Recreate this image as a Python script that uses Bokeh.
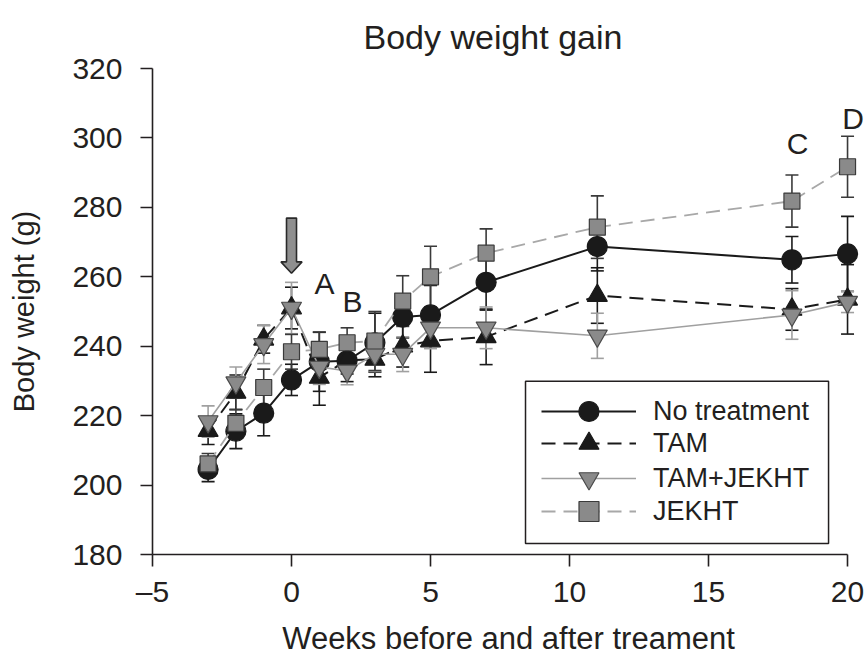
from bokeh.plotting import figure
from bokeh.models import (ColumnDataSource, Whisker, TeeHead, Range1d, FixedTicker,
                          Label, PolyAnnotation, BoxAnnotation, Legend, LegendItem)
from bokeh.embed import file_html
from bokeh.resources import INLINE

# ---------------- data ----------------
weeks = [-3, -2, -1, 0, 1, 2, 3, 4, 5, 7, 11, 18, 20]

no_treat = [204.5, 215.5, 220.7, 230.3, 235.5, 235.8, 241.0, 248.4, 249.0, 258.4, 268.7, 264.9, 266.6]
no_treat_err = [3.5, 5.0, 6.5, 4.5, 8.5, 6.0, 8.5, 6.0, 8.5, 8.0, 7.0, 6.7, 10.8]

tam = [215.7, 226.7, 242.0, 251.0, 231.0, 236.0, 236.2, 240.0, 241.5, 242.7, 254.6, 250.6, 253.5]
tam_err = [4.0, 5.0, 4.0, 6.0, 8.0, 4.0, 5.0, 6.0, 9.0, 8.0, 8.0, 6.0, 10.0]

tam_jekht = [218.3, 229.5, 240.5, 251.0, 234.0, 232.9, 237.7, 237.7, 245.3, 245.3, 243.0, 249.0, 252.7]
tam_jekht_err = [4.5, 4.5, 5.5, 7.4, 5.0, 4.0, 5.0, 5.0, 6.0, 6.0, 6.5, 7.0, 3.0]

jekht = [206.1, 217.8, 228.1, 238.4, 239.1, 241.0, 241.5, 253.0, 260.0, 266.8, 274.3, 281.8, 291.7]
jekht_err = [3.0, 4.0, 5.3, 5.0, 5.0, 4.3, 8.5, 7.3, 8.8, 7.0, 9.0, 7.5, 8.8]

series_names = ["No treatment", "TAM", "TAM+JEKHT", "JEKHT"]
x_ticks = [-5, 0, 5, 10, 15, 20]
y_ticks = [180, 200, 220, 240, 260, 280, 300, 320]

FONT = "Liberation Sans"
TXT = "#231f20"

p = figure(width=864, height=658,
           x_range=Range1d(-5, 20.61), y_range=Range1d(180, 320),
           output_backend="svg", toolbar_location=None,
           min_border_left=152, min_border_right=0,
           min_border_top=68, min_border_bottom=102,
           title="Body weight gain")

p.title.align = "left"
p.title.offset = 211
p.title.text_font = FONT
p.title.text_font_size = "34px"
p.title.text_font_style = "normal"
p.title.text_color = TXT
p.title.standoff = 26

p.outline_line_color = None
p.grid.visible = False
p.background_fill_color = "white"

for ax in (p.xaxis[0], p.yaxis[0]):
    ax.axis_line_color = "#231f20"
    ax.axis_line_width = 1.6
    ax.major_tick_line_color = "#231f20"
    ax.major_tick_line_width = 1.6
    ax.major_tick_out = 12
    ax.major_tick_in = 0
    ax.minor_tick_line_color = None
    ax.major_label_text_font = FONT
    ax.major_label_text_font_size = "30px"
    ax.major_label_text_color = TXT
    ax.axis_label_text_font = FONT
    ax.axis_label_text_font_style = "normal"
    ax.axis_label_text_color = TXT

p.xaxis.ticker = FixedTicker(ticks=x_ticks)
p.yaxis.ticker = FixedTicker(ticks=y_ticks)
p.xaxis.bounds = (x_ticks[0], x_ticks[-1])
p.yaxis.bounds = (y_ticks[0], y_ticks[-1])
p.xaxis.major_label_overrides = {-5: "\u20135"}
p.xaxis.axis_label = "Weeks before and after treament"
p.yaxis.axis_label = "Body weight (g)"
p.xaxis.axis_label_text_font_size = "31px"
p.yaxis.axis_label_text_font_size = "29px"
p.xaxis.major_label_standoff = 8
p.yaxis.major_label_standoff = 18
p.xaxis.axis_label_standoff = 10
p.yaxis.axis_label_standoff = 29

# ---------------- series ----------------
values = [no_treat, tam, tam_jekht, jekht]
errors = [no_treat_err, tam_err, tam_jekht_err, jekht_err]
styles = [
    dict(line_color="#1a1a1a", width=2, dash="solid", marker="circle", size=20,
         fill="#1a1a1a", mline="#1a1a1a", err="#1a1a1a"),
    dict(line_color="#1a1a1a", width=2, dash="14 8", marker="triangle", size=20,
         fill="#1a1a1a", mline="#1a1a1a", err="#1a1a1a"),
    dict(line_color="#a0a0a0", width=1.6, dash="solid", marker="inverted_triangle", size=20,
         fill="#8a8a8a", mline="#4a4a4a", err="#a0a0a0"),
    dict(line_color="#a8a8a8", width=1.8, dash="14 8", marker="square", size=16,
         fill="#8a8a8a", mline="#3a3a3a", err="#3a3a3a"),
]

for ys, es, st in zip(values, errors, styles):
    src = ColumnDataSource(dict(
        x=weeks,
        upper=[y + e for y, e in zip(ys, es)],
        lower=[y - e for y, e in zip(ys, es)],
    ))
    p.add_layout(Whisker(base="x", upper="upper", lower="lower", source=src,
                         line_color=st["err"], line_width=1.6, level="underlay",
                         upper_head=TeeHead(size=13, line_color=st["err"], line_width=1.6),
                         lower_head=TeeHead(size=13, line_color=st["err"], line_width=1.6)))

legend_renderers = []
for ys, st in zip(values, styles):
    src = ColumnDataSource(dict(x=weeks, y=ys))
    lr = p.line("x", "y", source=src, line_color=st["line_color"], line_width=st["width"],
                line_dash=st["dash"])
    sr = p.scatter("x", "y", source=src, marker=st["marker"], size=st["size"],
                   fill_color=st["fill"], line_color=st["mline"], line_width=1.2)
    legend_renderers.append([lr, sr])

# ---------------- annotations ----------------
for txt, lx, ly in [("A", 1.19, 258.0), ("B", 2.19, 252.9), ("C", 18.2, 298.5), ("D", 20.2, 305.5)]:
    p.add_layout(Label(x=lx, y=ly, text=txt, text_font=FONT, text_font_size="30px",
                       text_color=TXT, text_align="center", text_baseline="middle"))

# treatment-start arrow at week 0
p.add_layout(PolyAnnotation(
    xs=[-0.18, 0.18, 0.18, 0.38, 0.0, -0.38, -0.18],
    ys=[276.9, 276.9, 264.3, 264.3, 261.0, 264.3, 264.3],
    fill_color="#8f8f8f", fill_alpha=1.0,
    line_color="#2a2a2a", line_alpha=1.0, line_width=1.6))

# ---------------- legend ----------------
p.add_layout(BoxAnnotation(left=8.417, right=19.317, bottom=183.17, top=229.93,
                           fill_color="white", fill_alpha=1.0,
                           line_color="#231f20", line_width=1.5, line_alpha=1.0))

row_bottoms = [118, 86, 51, 18]
for name, rends, yb in zip(series_names, legend_renderers, row_bottoms):
    lg = Legend(items=[LegendItem(label=name, renderers=rends)],
                location=(389, yb), orientation="vertical",
                label_text_font=FONT, label_text_font_size="27px", label_text_color=TXT,
                glyph_width=95, glyph_height=50, padding=0, margin=0, spacing=0,
                label_standoff=17, border_line_color=None,
                background_fill_color=None, background_fill_alpha=0.0)
    p.add_layout(lg, "center")

open("out.html", "w").write(file_html(p, INLINE))
